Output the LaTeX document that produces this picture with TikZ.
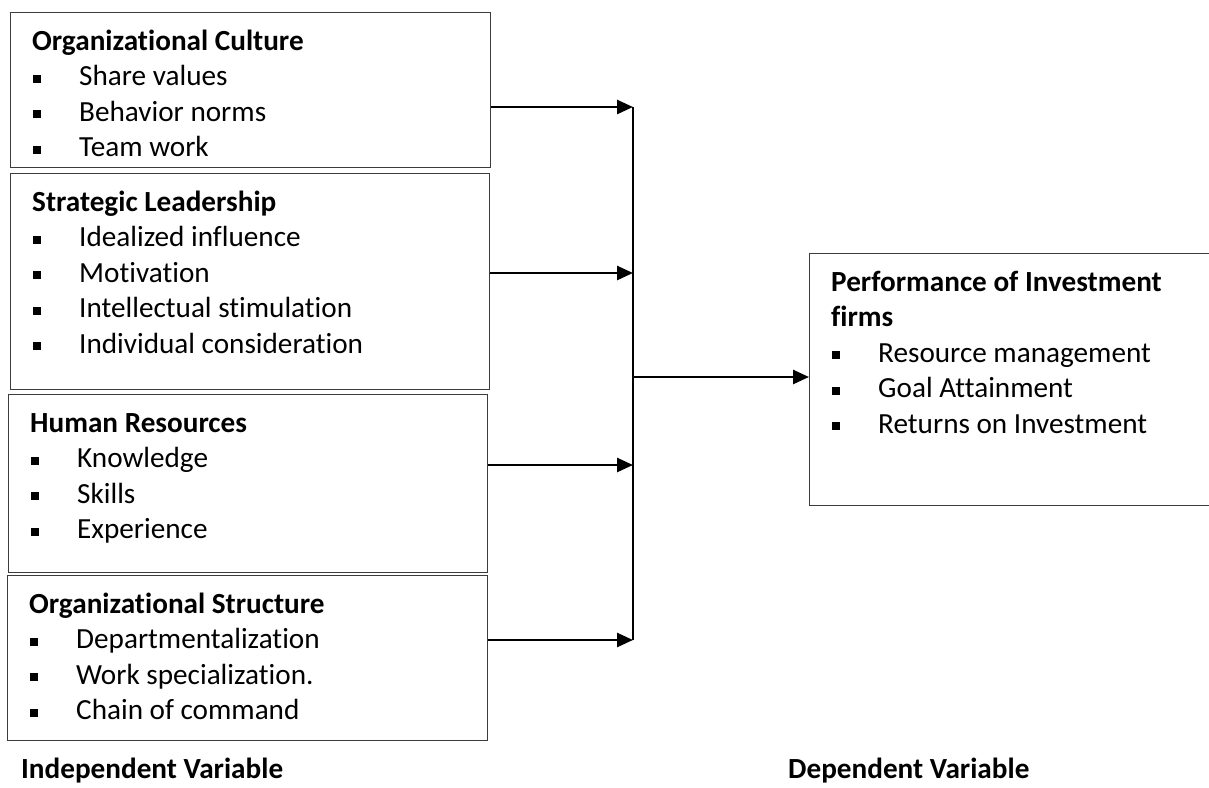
\documentclass[tikz,border=0pt]{standalone}
\usepackage{fontspec}
\setmainfont[Ligatures=NoCommon]{Carlito}
\usetikzlibrary{positioning, arrows.meta}
\usepackage{xcolor}
\definecolor{boxline}{HTML}{3C3C3C}
\newcommand\bul[1]{\makebox[47pt][l]{\hspace{1pt}\rule[3pt]{8pt}{8pt}}#1}
\newcommand\hd[1]{\rule{0pt}{25pt}\textbf{#1}}

\begin{document}
\begin{tikzpicture}[x=1pt, y=-1pt, font=\fontsize{29.2}{35.5}\selectfont,
    box/.style={draw=boxline, line width=1.4pt, anchor=north west, inner sep=0pt},
    txt/.style={align=left, inner sep=0pt},
    arr/.style={-{Triangle[length=16pt,width=14pt]}, line width=2.6pt},
    bus/.style={line width=2pt}]
        \useasboundingbox (0,0) rectangle (1209,787);
        % independent variables
        \node[box, minimum width=480pt, minimum height=155pt] (cult) at (10,12) {};
        \node[box, minimum width=479pt, minimum height=216pt] (lead) at (10,173) {};
        \node[box, minimum width=479pt, minimum height=178pt] (hr) at (8,394) {};
        \node[box, minimum width=480pt, minimum height=165pt] (struc) at (7,575) {};
        \node[txt, below right=13pt and 22pt of cult.north west] (culttxt)
          {\hd{Organizational Culture}\\ \bul{Share values}\\ \bul{Behavior norms}\\ \bul{Team work}};
        \node[txt, below right=13pt and 22pt of lead.north west] (leadtxt)
          {\hd{Strategic Leadership}\\ \bul{Idealized influence}\\ \bul{Motivation}\\ \bul{Intellectual stimulation}\\ \bul{Individual consideration}};
        \node[txt, below right=13pt and 22pt of hr.north west] (hrtxt)
          {\hd{Human Resources}\\ \bul{Knowledge}\\ \bul{Skills}\\ \bul{Experience}};
        \node[txt, below right=13pt and 22pt of struc.north west] (structxt)
          {\hd{Organizational Structure}\\ \bul{Departmentalization}\\ \bul{Work specialization.}\\ \bul{Chain of command}};
        % dependent variable
        \node[box, minimum width=403pt, minimum height=252pt] (perf) at (809,253) {};
        \node[txt, below right=13pt and 22pt of perf.north west] (perftxt)
          {\hd{Performance of Investment}\\ \textbf{firms}\\ \bul{Resource management}\\ \bul{Goal Attainment}\\ \bul{Returns on Investment}};
        % bus line
        \coordinate (j1) at (633,107);
        \coordinate (j2) at (633,273);
        \coordinate (j3) at (633,465);
        \coordinate (j4) at (633,640);
        \coordinate (j0) at (633,377);
        \draw[bus] (j1) -- (j4);
        \draw[arr] (cult.east |- j1) -- (j1);
        \draw[arr] (lead.east |- j2) -- (j2);
        \draw[arr] (hr.east |- j3) -- (j3);
        \draw[arr] (struc.east |- j4) -- (j4);
        \draw[arr] (j0) -- (perf.west |- j0);
        % captions
        \node[anchor=base west, inner sep=0pt, font=\fontsize{29.2}{35.5}\selectfont\bfseries] (indep) at (21,778) {Independent Variable};
        \node[anchor=base west, inner sep=0pt, font=\fontsize{29.2}{35.5}\selectfont\bfseries] (dep) at (788,778) {Dependent Variable};
      \end{tikzpicture}
\end{document}
